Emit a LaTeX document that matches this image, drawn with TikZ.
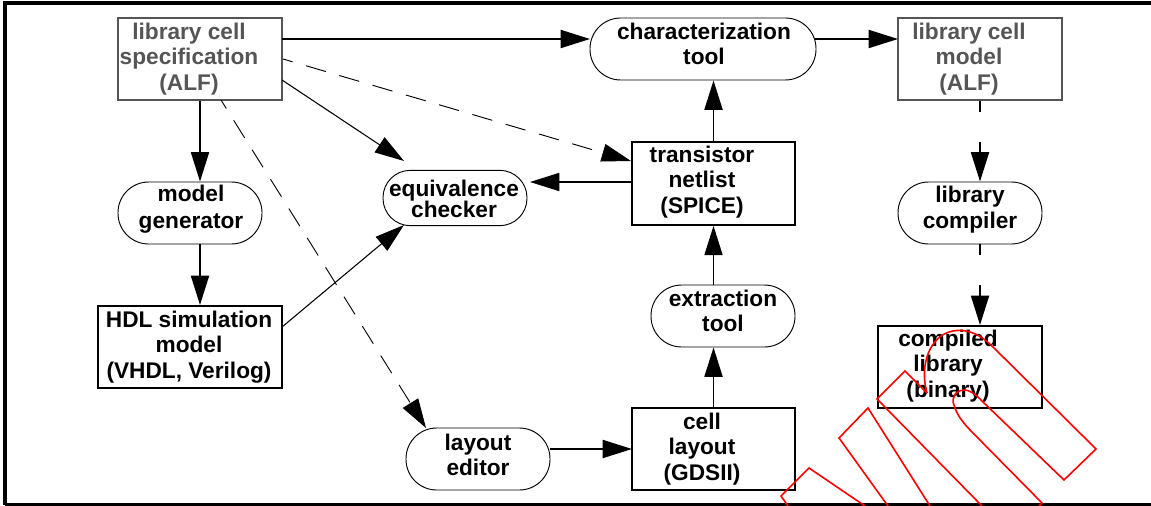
\documentclass[tikz,border=0pt]{standalone}
\usepackage{fontspec}
\setmainfont{Liberation Sans}
\usetikzlibrary{arrows.meta}
\definecolor{grayline}{RGB}{85,85,85}
\tikzset{
  x=0.75pt,y=-0.75pt,
  lbl/.style={font=\fontsize{17}{19}\selectfont\bfseries,align=center,inner sep=0pt,anchor=center},
  lbltall/.style={lbl,font=\fontsize{17}{20}\selectfont\bfseries},
  graylbl/.style={lbl,text=grayline},
  sqbox/.style={draw=black,line width=1.5pt},
  graybox/.style={draw=grayline,line width=1.5pt},
  pill/.style={draw=black,line width=0.7pt,rounded corners=23pt},
  tipa/.style={-{Triangle[length=22pt,width=13.5pt]}},
  heavy/.style={tipa,line width=1.4pt},
  thin/.style={tipa,line width=0.8pt},
  dashy/.style={tipa,line width=0.7pt,dash pattern=on 15.5pt off 10.5pt,dash phase=8pt},
  vdash/.style={tipa,line width=1.4pt,dash pattern=on 8pt off 22.5pt on 200pt off 0pt},
  wm/.style={draw=red,line width=1.2pt}
}
\begin{document}
\begin{tikzpicture}
\useasboundingbox (0,0) rectangle (1151,506);
\draw[black,line width=2.3pt] (5,505) -- (5,3) -- (1151,3);
\draw[black,line width=2.3pt] (5,505) -- (1151,505);
% boxes
\node[graybox,minimum width=123pt,minimum height=61.5pt,inner sep=0pt] (spec) at (200,59) {};
\node[graylbl] (spect) at (189,59) {library cell\\specification\\(ALF)};
\node[graybox,minimum width=123pt,minimum height=61.5pt,inner sep=0pt] (model) at (980,59) {};
\node[graylbl] (modelt) at (969,59) {library cell\\model\\(ALF)};
\node[sqbox,minimum width=122pt,minimum height=62pt,inner sep=0pt] (net) at (713.5,183.5) {};
\node[lbl] (nett) at (702,182) {transistor\\netlist\\(SPICE)};
\node[sqbox,minimum width=138pt,minimum height=61.5pt,inner sep=0pt] (hdl) at (190,347) {};
\node[lbl] (hdlt) at (189,347) {HDL simulation\\model\\(VHDL, Verilog)};
\node[sqbox,minimum width=122pt,minimum height=61.5pt,inner sep=0pt] (cell) at (713.5,449) {};
\node[lbl] (cellt) at (702,449) {cell\\layout\\(GDSII)};
\node[sqbox,minimum width=123pt,minimum height=61.5pt,inner sep=0pt] (comp) at (960,367) {};
\node[lbl] (compt) at (948,366) {compiled\\library\\(binary)};
% pills
\node[pill,minimum width=169.5pt,minimum height=46.5pt,inner sep=0pt] (char) at (703,49) {};
\node[lbl] (chart) at (704,44) {characterization\\tool};
\node[pill,minimum width=108pt,minimum height=46.5pt,inner sep=0pt] (gen) at (190,213) {};
\node[lbltall] (gent) at (191,209.5) {model\\generator};
\node[pill,minimum width=108pt,minimum height=41.5pt,rounded corners=20.5pt,inner sep=0pt] (eq) at (455,198) {};
\node[lbl,font=\fontsize{17}{16}\selectfont\bfseries] (eqt) at (454,199) {equivalence\\checker};
\node[pill,minimum width=108pt,minimum height=46.5pt,inner sep=0pt] (lib) at (970,213) {};
\node[lbltall] (libt) at (970,209.5) {library\\compiler};
\node[pill,minimum width=108pt,minimum height=46.5pt,inner sep=0pt] (ext) at (723,316) {};
\node[lbl] (extt) at (723,311) {extraction\\tool};
\node[pill,minimum width=108pt,minimum height=46.5pt,inner sep=0pt] (edit) at (478,459) {};
\node[lbl] (editt) at (478,455) {layout\\editor};
% connectors
\coordinate (a1) at (282,39); \coordinate (b1) at (590,39);
\draw[heavy] (a1) -- (b1);
\coordinate (a2) at (815,39); \coordinate (b2) at (898,39);
\draw[heavy] (a2) -- (b2);
\draw[heavy] (spec.south) -- (spec.south |- gen.north);
\coordinate (a9) at (spec.south |- gen.south);
\draw[heavy] (a9) -- (a9 |- hdl.north);
\coordinate (a3) at (282,80); \coordinate (b3) at (404,161);
\draw[thin] (a3) -- (b3);
\coordinate (a4) at (283,59); \coordinate (b4) at (631,161);
\draw[dashy] (a4) -- (b4);
\coordinate (a5) at (221,100); \coordinate (b5) at (426,428);
\draw[dashy] (a5) -- (b5);
\coordinate (a6) at (632,182); \coordinate (b6) at (530,182);
\draw[heavy] (a6) -- (b6);
\coordinate (a7) at (282,327); \coordinate (b7) at (404,225);
\draw[thin] (a7) -- (b7);
\coordinate (a8) at (550,449); \coordinate (b8) at (632,449);
\draw[heavy] (a8) -- (b8);
\draw[heavy] (cell.north) -- (cell.north |- ext.south);
\draw[heavy] (cell.north |- ext.north) -- (net.south);
\draw[heavy] (net.north) -- (net.north |- char.south);
\coordinate (c1) at (model.south |- lib.north);
\coordinate (c2) at (model.south |- lib.south);
\coordinate (c3) at (model.south |- comp.north);
\draw[vdash] (model.south) -- (c1);
\draw[vdash] (c2) -- (c3);
% watermark
\draw[wm] (927,393) .. controls (919,365) and (930,335) .. (953,331) .. controls (970,328) and (983,337) .. (993,347) -- (1096,449) -- (1064,480) -- (983,402) .. controls (975,393) and (968,390) .. (965,390) .. controls (955,390) and (951,398) .. (954,405) .. controls (957,416) and (965,425) .. (973,433) -- (1042,503) -- (1039,506);
\draw[wm] (927,393) -- (905,371) -- (877,399) -- (982,506);
\draw[wm] (930,506) -- (868,408) -- (839,438) -- (888,506);
\draw[wm] (865,506) -- (809,468) -- (781,496) -- (788,506);
\end{tikzpicture}
\end{document}
